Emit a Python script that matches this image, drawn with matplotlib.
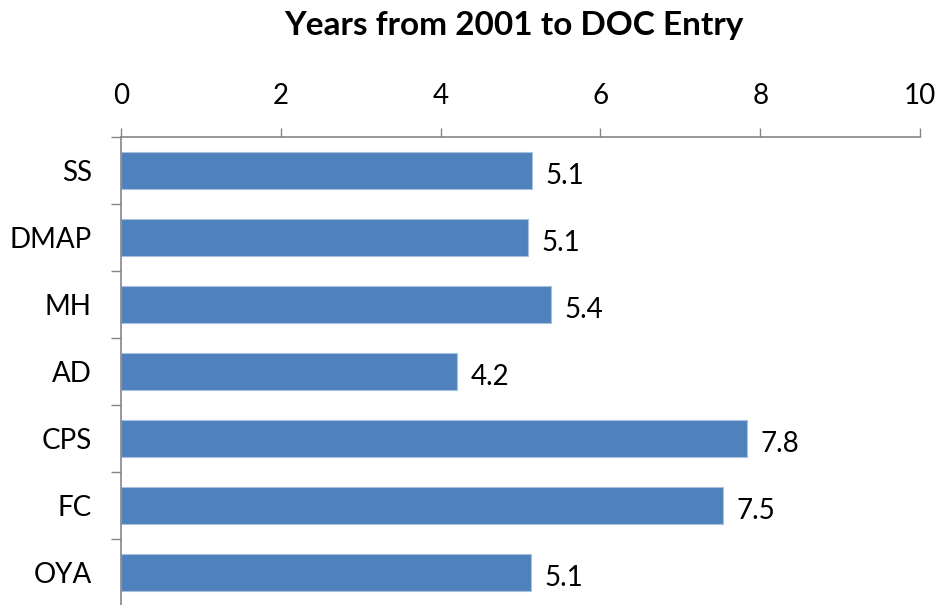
import matplotlib
matplotlib.use("Agg")
import matplotlib.pyplot as plt
from matplotlib.ticker import FixedLocator
import numpy as np

plt.rcParams['font.family'] = ['Lato', 'DejaVu Sans']

categories = ["SS", "DMAP", "MH", "AD", "CPS", "FC", "OYA"]
years = [5.14, 5.09, 5.38, 4.20, 7.83, 7.53, 5.13]
x_ticks = [0, 2, 4, 6, 8, 10]
title = "Years from 2001 to DOC Entry"

bar_color = "#4F81BD"
axis_color = "#868686"

fig = plt.figure(figsize=(9.37, 6.05), dpi=100)
ax = fig.add_axes([121 / 937, -1 / 605, 799 / 937, 469 / 605])

y = np.arange(len(categories))
ax.barh(y, years, height=0.55, color=bar_color, edgecolor="#A9C0DF", linewidth=0.8)

for yi, v in zip(y, years):
    ax.annotate(f"{v:.1f}", xy=(v, yi), xytext=(10, -4), textcoords="offset points",
                ha="left", va="center", fontsize=20, color="black")

ax.set_xlim(0, 10)
ax.set_ylim(len(categories) - 0.5, -0.5)
ax.xaxis.set_ticks_position("top")
ax.set_xticks(x_ticks)
ax.set_xticklabels([str(t) for t in x_ticks])
ax.tick_params(axis="x", which="major", direction="out", length=6.5, width=1,
               color=axis_color, pad=14, labelsize=20)

ax.set_yticks(y)
ax.set_yticklabels(categories)
ax.tick_params(axis="y", which="major", length=0, pad=21, labelsize=20)
ax.yaxis.set_minor_locator(FixedLocator(np.arange(-0.5, len(categories), 1.0)))
ax.tick_params(axis="y", which="minor", direction="out", length=7, width=1, color=axis_color)

for side in ("bottom", "right"):
    ax.spines[side].set_visible(False)
for side in ("top", "left"):
    ax.spines[side].set_color(axis_color)
    ax.spines[side].set_linewidth(1.2)

fig.text(0.5487, 1 - 25 / 605, title, ha="center", va="center",
         fontsize=24, fontweight="bold")

fig.savefig("out.png", dpi=100)
